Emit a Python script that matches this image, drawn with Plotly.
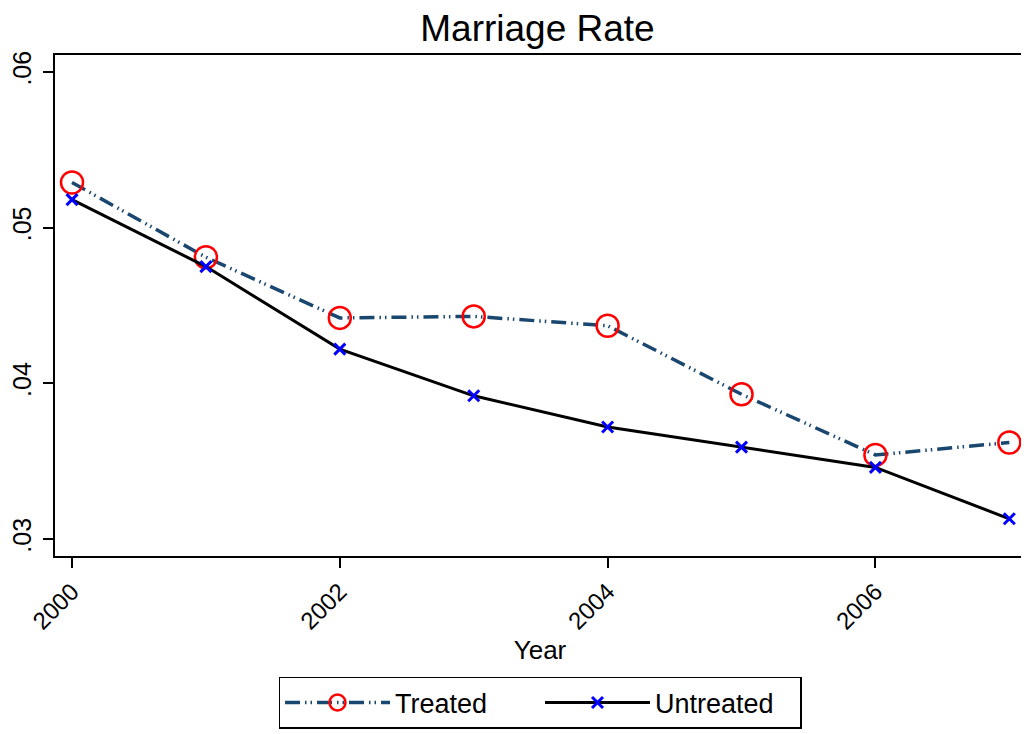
import plotly.graph_objects as go

years = [2000, 2001, 2002, 2003, 2004, 2005, 2006, 2007]
treated = [0.0529, 0.0481, 0.0442, 0.0443, 0.0437, 0.0393, 0.0354, 0.0362]
untreated = [0.0518, 0.0475, 0.0422, 0.0392, 0.0372, 0.0359, 0.0346, 0.0313]
y_ticks = [0.03, 0.04, 0.05, 0.06]
y_labels = [".03", ".04", ".05", ".06"]
x_ticks = [2000, 2002, 2004, 2006]

FONT = "Liberation Sans, Arial, sans-serif"

fig = go.Figure()
fig.add_trace(go.Scatter(
    x=years, y=treated, name="Treated", mode="lines+markers",
    line=dict(color="#1a476f", width=3.5, dash="15px,5px,1.5px,4px,1.5px,5px"),
    marker=dict(symbol="circle-open", size=22, color="red", line=dict(width=2.5, color="red")),
))
fig.add_trace(go.Scatter(
    x=years, y=untreated, name="Untreated", mode="lines+markers",
    line=dict(color="black", width=3),
    marker=dict(symbol="x-thin-open", size=11, color="blue", line=dict(width=3, color="blue")),
))

# page body has an 8px margin, so the figure is drawn 8px smaller and offset
fig.update_layout(
    width=1021, height=726,
    margin=dict(l=47, r=4, t=47, b=178, autoexpand=False),
    paper_bgcolor="white", plot_bgcolor="white",
    font=dict(family=FONT, size=25, color="black"),
    title=dict(text="Marriage Rate", x=0.5186, xanchor="center", y=0.972, yanchor="middle",
               font=dict(size=37, family=FONT, color="black")),
    showlegend=True,
    legend=dict(orientation="h", x=0.5, xanchor="center", y=-0.2415, yanchor="top",
                bordercolor="black", borderwidth=1.5, bgcolor="white",
                font=dict(size=27, family=FONT), itemwidth=105,
                entrywidth=140, entrywidthmode="pixels", tracegroupgap=0),
)
fig.update_xaxes(
    range=[1999.873, 2007.117], tickvals=x_ticks, ticktext=[str(v) for v in x_ticks],
    tickangle=-45, ticks="outside", ticklen=10, tickwidth=2, tickcolor="black",
    showline=True, linecolor="black", linewidth=2, mirror=True, showgrid=False, zeroline=False,
    automargin=False,
    title=dict(text="Year", font=dict(size=26, family=FONT), standoff=0),
    tickfont=dict(size=24, family=FONT),
)
fig.update_yaxes(
    range=[0.02891, 0.06109], tickvals=y_ticks, ticktext=y_labels,
    tickangle=-90, ticks="outside", ticklen=10, tickwidth=2, tickcolor="black",
    showline=True, linecolor="black", linewidth=2, mirror=True, showgrid=False, zeroline=False,
    automargin=False, ticklabelstandoff=2,
    tickfont=dict(size=25, family=FONT),
)

fig.write_html("out.html")
